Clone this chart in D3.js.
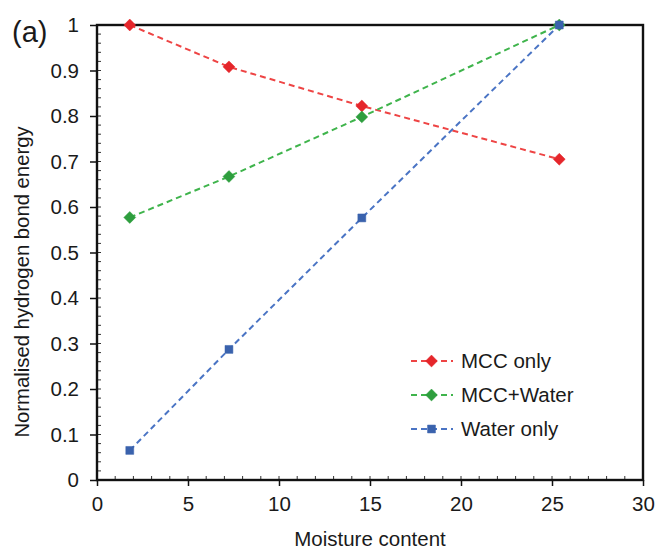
<!DOCTYPE html>
<html><head><meta charset="utf-8">
<script src="https://cdn.jsdelivr.net/npm/d3@7"></script>
<style>
html,body{margin:0;padding:0;background:#fff;}
text{font-family:"Liberation Sans",Arial,sans-serif;fill:#1a1a1a;}
</style></head>
<body><svg id="chart" width="655" height="549"></svg>
<script>
const moisture = [1.8, 7.25, 14.55, 25.4];
const mccOnly = [1.0, 0.908, 0.822, 0.705];
const mccWater = [0.577, 0.667, 0.798, 1.0];
const waterOnly = [0.065, 0.287, 0.576, 1.0];
const xTicks = [0, 5, 10, 15, 20, 25, 30];
const yTicks = [0, 0.1, 0.2, 0.3, 0.4, 0.5, 0.6, 0.7, 0.8, 0.9, 1];
const seriesNames = ["MCC only", "MCC+Water", "Water only"];

const series = [
  {name: seriesNames[0], values: mccOnly, color: "#e5262b", line: "#ee4444", shape: "diamond"},
  {name: seriesNames[1], values: mccWater, color: "#2e9e3e", line: "#3fb44c", shape: "diamond"},
  {name: seriesNames[2], values: waterOnly, color: "#3a62ad", line: "#4a74c4", shape: "square"}
];

const svg = d3.select("#chart");
const L = 97, R = 643, T = 25, B = 480;
const x = d3.scaleLinear().domain([0, 30]).range([L, R]);
const y = d3.scaleLinear().domain([0, 1]).range([B, T]);

// minor ticks
const gMinor = svg.append("g").attr("stroke", "#333").attr("stroke-width", 1);
d3.range(0, 1.0001, 0.02).forEach(v => {
  gMinor.append("line").attr("x1", L).attr("x2", L + 4).attr("y1", y(v)).attr("y2", y(v));
});
d3.range(0, 30.001, 1).forEach(v => {
  gMinor.append("line").attr("x1", x(v)).attr("x2", x(v)).attr("y1", B).attr("y2", B - 4);
});

// axes
const xAxis = svg.append("g").attr("transform", `translate(0,${B})`)
  .call(d3.axisBottom(x).tickValues(xTicks).tickSize(6).tickPadding(10).tickFormat(d3.format("d")));
const yAxis = svg.append("g").attr("transform", `translate(${L},0)`)
  .call(d3.axisLeft(y).tickValues(yTicks).tickSize(7).tickPadding(11).tickFormat(d => d === 0 ? "0" : d === 1 ? "1" : d3.format(".1f")(d)));
[xAxis, yAxis].forEach(g => {
  g.select(".domain").remove();
  g.selectAll(".tick line").attr("stroke", "#111").attr("stroke-width", 1.5);
  g.selectAll(".tick text").attr("font-size", 20.5).attr("fill", "#1a1a1a")
    .style("font-family", '"Liberation Sans", Arial, sans-serif');
});

// frame
svg.append("rect").attr("x", L).attr("y", T).attr("width", R - L).attr("height", B - T)
  .attr("fill", "none").attr("stroke", "#111").attr("stroke-width", 2.4);

// lines
const line = d3.line().x((d, i) => x(moisture[i])).y(d => y(d));
const diamond = d3.symbol().type(d3.symbolDiamond2).size(90);
const square = d3.symbol().type(d3.symbolSquare2).size(80);
function marker(g, s, cx, cy) {
  g.append("path").attr("d", s.shape === "diamond" ? diamond() : square())
    .attr("transform", `translate(${cx},${cy})`).attr("fill", s.color).attr("stroke", s.color).attr("stroke-width", 0.5);
}
series.forEach(s => {
  svg.append("path").datum(s.values).attr("d", line).attr("fill", "none")
    .attr("stroke", s.line).attr("stroke-width", 2).attr("stroke-dasharray", "6,4");
});
series.forEach(s => {
  const g = svg.append("g");
  s.values.forEach((v, i) => marker(g, s, x(moisture[i]), y(v)));
});

// legend
const legY = [361, 395, 429];
series.forEach((s, i) => {
  const g = svg.append("g");
  g.append("line").attr("x1", 410).attr("x2", 453).attr("y1", legY[i]).attr("y2", legY[i])
    .attr("stroke", s.line).attr("stroke-width", 2).attr("stroke-dasharray", "6,4").attr("stroke-dashoffset", -1);
  marker(g, s, 431.5, legY[i]);
  g.append("text").attr("x", 461).attr("y", legY[i] + 7).attr("font-size", 20.5).text(s.name);
});

// titles
svg.append("text").attr("x", (L + R) / 2).attr("y", 546).attr("text-anchor", "middle")
  .attr("font-size", 20.5).text("Moisture content");
svg.append("text").attr("transform", "translate(29,282) rotate(-90)").attr("text-anchor", "middle")
  .attr("font-size", 20.3).text("Normalised hydrogen bond energy");
svg.append("text").attr("x", 12).attr("y", 42).attr("font-size", 29).text("(a)");
</script></body></html>
